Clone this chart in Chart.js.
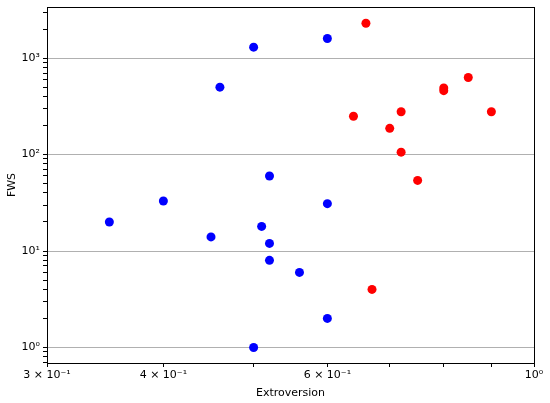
<!DOCTYPE html>
<html>
<head>
<meta charset="utf-8">
<script src="https://cdn.jsdelivr.net/npm/chart.js@4/dist/chart.umd.min.js"></script>
<style>
  html, body { margin: 0; padding: 0; background: #fff; }
  #wrap { width: 550px; height: 403px; }
</style>
</head>
<body>
<div id="wrap"><canvas id="chart" width="550" height="403"></canvas></div>
<script>
// values
var blueX = [0.5, 0.6, 0.46, 0.52, 0.4, 0.35, 0.6, 0.51, 0.45, 0.52, 0.52, 0.56, 0.6, 0.5];
var blueY = [1300, 1600, 500, 60, 33, 20, 31, 18, 14, 12, 8, 6, 2, 1];
var redX = [0.66, 0.85, 0.8, 0.8, 0.72, 0.9, 0.64, 0.7, 0.72, 0.75, 0.67];
var redY = [2300, 630, 490, 460, 278, 278, 250, 187, 106, 54, 4];

var xTicks = [0.3, 0.4, 0.5, 0.6, 0.7, 0.8, 0.9, 1.0];
var xTickLabels = { '0.3': '3 × 10⁻¹', '0.4': '4 × 10⁻¹', '0.6': '6 × 10⁻¹', '1': '10⁰' };
var yMajor = [1, 10, 100, 1000];
var yTickLabels = { '1': '10⁰', '10': '10¹', '100': '10²', '1000': '10³' };

function toPoints(xs, ys) {
    return xs.map(function(x, i) { return { x: x, y: ys[i] }; });
}

// 1..9 of each decade, inside the axis range
function logTicks(min, max) {
    var out = [];
    for (var e = -1; e <= 3; e++) {
        for (var m = 1; m < 10; m++) {
            var v = +(m * Math.pow(10, e)).toPrecision(3);
            if (v >= min && v <= max) out.push(v);
        }
    }
    return out;
}

var font = { family: 'DejaVu Sans', size: 11 };

// black frame round the plot area, like matplotlib's spines
var frame = {
    id: 'frame',
    afterDraw: function(chart) {
        var a = chart.chartArea, c = chart.ctx;
        c.save();
        c.strokeStyle = '#000';
        c.lineWidth = 1;
        c.strokeRect(Math.round(a.left) + 0.5, Math.round(a.top) + 0.5,
            Math.round(a.right - a.left), Math.round(a.bottom - a.top));
        c.restore();
    }
};

new Chart(document.getElementById('chart').getContext('2d'), {
    type: 'scatter',
    data: {
        datasets: [{
            data: toPoints(blueX, blueY),
            backgroundColor: '#0000ff',
            borderWidth: 0,
            pointRadius: 4.5
        }, {
            data: toPoints(redX, redY),
            backgroundColor: '#ff0000',
            borderWidth: 0,
            pointRadius: 4.5
        }]
    },
    plugins: [frame],
    options: {
        responsive: false,
        devicePixelRatio: 1,
        animation: false,
        layout: { padding: { top: 7, right: 16, left: 0, bottom: 0 } },
        plugins: { legend: { display: false }, tooltip: { enabled: false } },
        scales: {
            x: {
                type: 'logarithmic',
                min: 0.3,
                max: 1.0,
                border: { display: false },
                afterFit: function(s) {
                    s.height = 40;
                    s.paddingLeft = 0;
                    s.paddingRight = 0;
                },
                afterBuildTicks: function(s) {
                    s.ticks = xTicks.map(function(v) { return { value: v }; });
                },
                grid: {
                    color: 'rgba(0,0,0,0)',
                    tickColor: '#000',
                    tickLength: 4
                },
                ticks: {
                    autoSkip: false,
                    maxRotation: 0,
                    padding: 2,
                    color: '#000',
                    font: font,
                    callback: function(v) { return xTickLabels[String(v)] || ''; }
                },
                title: {
                    display: true,
                    text: 'Extroversion',
                    color: '#000',
                    font: font,
                    padding: { top: 0, bottom: 3 }
                }
            },
            y: {
                type: 'logarithmic',
                min: 0.69,
                max: 3390,
                border: { display: false },
                afterFit: function(s) {
                    s.width = 47;
                    s.paddingTop = 0;
                    s.paddingBottom = 0;
                },
                afterBuildTicks: function(s) {
                    s.ticks = logTicks(0.69, 3390).map(function(v) { return { value: v }; });
                },
                grid: {
                    color: function(ctx) {
                        return ctx.tick && yMajor.indexOf(ctx.tick.value) >= 0 ? '#b0b0b0' : 'rgba(0,0,0,0)';
                    },
                    lineWidth: 1,
                    tickColor: '#000',
                    tickLength: 4
                },
                ticks: {
                    autoSkip: false,
                    padding: 3,
                    color: '#000',
                    font: font,
                    callback: function(v) { return yTickLabels[String(v)] || ''; }
                },
                title: {
                    display: true,
                    text: 'FWS',
                    color: '#000',
                    font: font,
                    padding: { top: 6, bottom: 0 }
                }
            }
        }
    }
});
</script>
</body>
</html>
